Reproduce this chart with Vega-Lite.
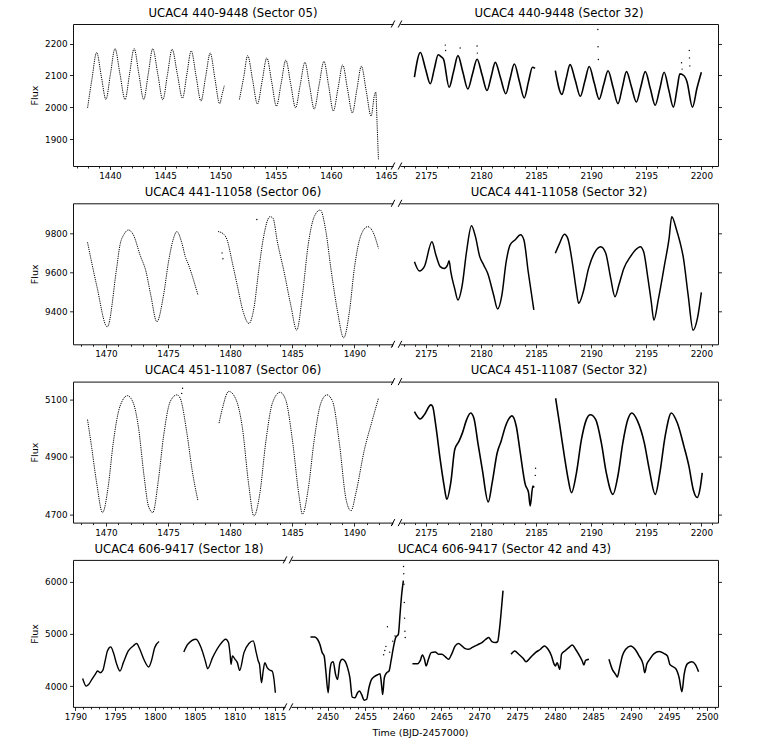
{
"$schema":"https://vega.github.io/schema/vega-lite/v6.json",
"padding":{"left":29,"top":7,"right":5,"bottom":5},
"config":{"view":{"stroke":null},"font":"DejaVu Sans",
"axis":{"grid":false,"domainColor":"#111","domainWidth":1,"tickColor":"#111","tickWidth":0.9,"labelColor":"black","labelFontSize":8.8,"titleFontSize":9.5,"titleFontWeight":"normal","titleColor":"black","labelFont":"DejaVu Sans","titleFont":"DejaVu Sans","labelOverlap":false},
"title":{"fontSize":11.7,"fontWeight":"normal","color":"black","font":"DejaVu Sans","offset":0.5},
"rule":{"color":"black","strokeWidth":1}},
"datasets":{
"one":[{}],
"lc":[
{"p":"1L","s":1,"t":1437.98,"f":1999},{"p":"1L","s":1,"t":1438.38,"f":2090},{"p":"1L","s":1,"t":1438.80,"f":2172},{"p":"1L","s":1,"t":1439.22,"f":2098},{"p":"1L","s":1,"t":1439.64,"f":2025},{"p":"1L","s":1,"t":1440.05,"f":2105},{"p":"1L","s":1,"t":1440.46,"f":2184},{"p":"1L","s":1,"t":1440.91,"f":2105},{"p":"1L","s":1,"t":1441.37,"f":2025},{"p":"1L","s":1,"t":1441.78,"f":2105},{"p":"1L","s":1,"t":1442.19,"f":2184},{"p":"1L","s":1,"t":1442.62,"f":2105},{"p":"1L","s":1,"t":1443.06,"f":2025},{"p":"1L","s":1,"t":1443.47,"f":2105},{"p":"1L","s":1,"t":1443.88,"f":2184},{"p":"1L","s":1,"t":1444.33,"f":2105},{"p":"1L","s":1,"t":1444.79,"f":2024},{"p":"1L","s":1,"t":1445.21,"f":2103},{"p":"1L","s":1,"t":1445.63,"f":2182},{"p":"1L","s":1,"t":1446.10,"f":2105},{"p":"1L","s":1,"t":1446.57,"f":2029},{"p":"1L","s":1,"t":1446.96,"f":2103},{"p":"1L","s":1,"t":1447.36,"f":2177},{"p":"1L","s":1,"t":1447.80,"f":2098},{"p":"1L","s":1,"t":1448.24,"f":2020},{"p":"1L","s":1,"t":1448.66,"f":2095},{"p":"1L","s":1,"t":1449.08,"f":2170},{"p":"1L","s":1,"t":1449.50,"f":2091},{"p":"1L","s":1,"t":1449.93,"f":2012},{"p":"1L","s":1,"t":1450.15,"f":2040},{"p":"1L","s":1,"t":1450.35,"f":2068},
{"p":"1L","s":2,"t":1451.72,"f":2025},{"p":"1L","s":2,"t":1452.10,"f":2093},{"p":"1L","s":2,"t":1452.47,"f":2162},{"p":"1L","s":2,"t":1452.91,"f":2087},{"p":"1L","s":2,"t":1453.35,"f":2011},{"p":"1L","s":2,"t":1453.78,"f":2083},{"p":"1L","s":2,"t":1454.20,"f":2155},{"p":"1L","s":2,"t":1454.64,"f":2080},{"p":"1L","s":2,"t":1455.07,"f":2004},{"p":"1L","s":2,"t":1455.50,"f":2076},{"p":"1L","s":2,"t":1455.92,"f":2148},{"p":"1L","s":2,"t":1456.36,"f":2074},{"p":"1L","s":2,"t":1456.80,"f":1999},{"p":"1L","s":2,"t":1457.22,"f":2070},{"p":"1L","s":2,"t":1457.65,"f":2141},{"p":"1L","s":2,"t":1458.07,"f":2068},{"p":"1L","s":2,"t":1458.49,"f":1995},{"p":"1L","s":2,"t":1458.93,"f":2070},{"p":"1L","s":2,"t":1459.37,"f":2144},{"p":"1L","s":2,"t":1459.80,"f":2067},{"p":"1L","s":2,"t":1460.22,"f":1989},{"p":"1L","s":2,"t":1460.65,"f":2061},{"p":"1L","s":2,"t":1461.07,"f":2133},{"p":"1L","s":2,"t":1461.50,"f":2058},{"p":"1L","s":2,"t":1461.94,"f":1983},{"p":"1L","s":2,"t":1462.35,"f":2056},{"p":"1L","s":2,"t":1462.76,"f":2129},{"p":"1L","s":2,"t":1463.20,"f":2051},{"p":"1L","s":2,"t":1463.64,"f":1973},{"p":"1L","s":2,"t":1463.95,"f":2040},{"p":"1L","s":2,"t":1464.06,"f":2048},{"p":"1L","s":2,"t":1464.18,"f":1950},{"p":"1L","s":2,"t":1464.30,"f":1838},
{"p":"1R","s":1,"t":2173.95,"f":2095},{"p":"1R","s":1,"t":2174.49,"f":2172},{"p":"1R","s":1,"t":2174.94,"f":2123},{"p":"1R","s":1,"t":2175.39,"f":2074},{"p":"1R","s":1,"t":2175.75,"f":2120},{"p":"1R","s":1,"t":2176.11,"f":2165},{"p":"1R","s":1,"t":2176.40,"f":2158},{"p":"1R","s":1,"t":2176.60,"f":2150},{"p":"1R","s":1,"t":2177.10,"f":2063},{"p":"1R","s":1,"t":2177.50,"f":2112},{"p":"1R","s":1,"t":2177.90,"f":2162},{"p":"1R","s":1,"t":2178.35,"f":2110},{"p":"1R","s":1,"t":2178.80,"f":2058},{"p":"1R","s":1,"t":2179.22,"f":2105},{"p":"1R","s":1,"t":2179.64,"f":2151},{"p":"1R","s":1,"t":2180.09,"f":2102},{"p":"1R","s":1,"t":2180.54,"f":2053},{"p":"1R","s":1,"t":2180.92,"f":2097},{"p":"1R","s":1,"t":2181.29,"f":2141},{"p":"1R","s":1,"t":2181.77,"f":2092},{"p":"1R","s":1,"t":2182.25,"f":2043},{"p":"1R","s":1,"t":2182.63,"f":2090},{"p":"1R","s":1,"t":2183.02,"f":2136},{"p":"1R","s":1,"t":2183.47,"f":2083},{"p":"1R","s":1,"t":2183.92,"f":2030},{"p":"1R","s":1,"t":2184.30,"f":2080},{"p":"1R","s":1,"t":2184.67,"f":2126},{"p":"1R","s":1,"t":2184.90,"f":2122},
{"p":"1R","s":2,"t":2186.74,"f":2115},{"p":"1R","s":2,"t":2187.34,"f":2041},{"p":"1R","s":2,"t":2187.71,"f":2088},{"p":"1R","s":2,"t":2188.08,"f":2134},{"p":"1R","s":2,"t":2188.55,"f":2085},{"p":"1R","s":2,"t":2189.01,"f":2035},{"p":"1R","s":2,"t":2189.42,"f":2082},{"p":"1R","s":2,"t":2189.82,"f":2128},{"p":"1R","s":2,"t":2190.27,"f":2077},{"p":"1R","s":2,"t":2190.72,"f":2026},{"p":"1R","s":2,"t":2191.12,"f":2070},{"p":"1R","s":2,"t":2191.53,"f":2115},{"p":"1R","s":2,"t":2191.98,"f":2063},{"p":"1R","s":2,"t":2192.43,"f":2012},{"p":"1R","s":2,"t":2192.82,"f":2062},{"p":"1R","s":2,"t":2193.20,"f":2112},{"p":"1R","s":2,"t":2193.65,"f":2065},{"p":"1R","s":2,"t":2194.10,"f":2017},{"p":"1R","s":2,"t":2194.50,"f":2064},{"p":"1R","s":2,"t":2194.91,"f":2112},{"p":"1R","s":2,"t":2195.36,"f":2060},{"p":"1R","s":2,"t":2195.81,"f":2007},{"p":"1R","s":2,"t":2196.22,"f":2058},{"p":"1R","s":2,"t":2196.62,"f":2110},{"p":"1R","s":2,"t":2197.04,"f":2055},{"p":"1R","s":2,"t":2197.46,"f":2001},{"p":"1R","s":2,"t":2197.80,"f":2060},{"p":"1R","s":2,"t":2198.05,"f":2105},{"p":"1R","s":2,"t":2198.40,"f":2100},{"p":"1R","s":2,"t":2198.70,"f":2080},{"p":"1R","s":2,"t":2199.19,"f":2001},{"p":"1R","s":2,"t":2199.60,"f":2060},{"p":"1R","s":2,"t":2200.00,"f":2110},
{"p":"2L","s":1,"t":1468.52,"f":9754},{"p":"2L","s":1,"t":1469.25,"f":9536},{"p":"2L","s":1,"t":1470.11,"f":9323},{"p":"2L","s":1,"t":1470.86,"f":9621},{"p":"2L","s":1,"t":1471.13,"f":9740},{"p":"2L","s":1,"t":1471.46,"f":9795},{"p":"2L","s":1,"t":1471.81,"f":9817},{"p":"2L","s":1,"t":1472.21,"f":9792},{"p":"2L","s":1,"t":1472.75,"f":9689},{"p":"2L","s":1,"t":1473.23,"f":9604},{"p":"2L","s":1,"t":1473.61,"f":9485},{"p":"2L","s":1,"t":1474.10,"f":9349},{"p":"2L","s":1,"t":1474.64,"f":9485},{"p":"2L","s":1,"t":1475.04,"f":9655},{"p":"2L","s":1,"t":1475.44,"f":9774},{"p":"2L","s":1,"t":1475.71,"f":9809},{"p":"2L","s":1,"t":1476.12,"f":9749},{"p":"2L","s":1,"t":1476.39,"f":9681},{"p":"2L","s":1,"t":1476.66,"f":9638},{"p":"2L","s":1,"t":1476.93,"f":9587},{"p":"2L","s":1,"t":1477.41,"f":9485},
{"p":"2L","s":2,"t":1479.03,"f":9809},{"p":"2L","s":2,"t":1479.49,"f":9795},{"p":"2L","s":2,"t":1479.76,"f":9766},{"p":"2L","s":2,"t":1480.16,"f":9655},{"p":"2L","s":2,"t":1480.57,"f":9536},{"p":"2L","s":2,"t":1481.05,"f":9400},{"p":"2L","s":2,"t":1481.51,"f":9340},{"p":"2L","s":2,"t":1481.91,"f":9417},{"p":"2L","s":2,"t":1482.32,"f":9621},{"p":"2L","s":2,"t":1482.67,"f":9774},{"p":"2L","s":2,"t":1483.21,"f":9885},{"p":"2L","s":2,"t":1483.45,"f":9877},{"p":"2L","s":2,"t":1483.80,"f":9757},{"p":"2L","s":2,"t":1484.34,"f":9604},{"p":"2L","s":2,"t":1484.88,"f":9434},{"p":"2L","s":2,"t":1485.36,"f":9306},{"p":"2L","s":2,"t":1485.82,"f":9485},{"p":"2L","s":2,"t":1486.28,"f":9740},{"p":"2L","s":2,"t":1486.77,"f":9885},{"p":"2L","s":2,"t":1487.25,"f":9919},{"p":"2L","s":2,"t":1487.71,"f":9809},{"p":"2L","s":2,"t":1488.11,"f":9621},{"p":"2L","s":2,"t":1488.65,"f":9400},{"p":"2L","s":2,"t":1489.14,"f":9267},{"p":"2L","s":2,"t":1489.60,"f":9400},{"p":"2L","s":2,"t":1490.00,"f":9621},{"p":"2L","s":2,"t":1490.54,"f":9792},{"p":"2L","s":2,"t":1491.08,"f":9834},{"p":"2L","s":2,"t":1491.48,"f":9809},{"p":"2L","s":2,"t":1491.94,"f":9723},
{"p":"2R","s":1,"t":2173.95,"f":9655},{"p":"2R","s":1,"t":2174.40,"f":9608},{"p":"2R","s":1,"t":2174.85,"f":9630},{"p":"2R","s":1,"t":2175.54,"f":9757},{"p":"2R","s":1,"t":2175.90,"f":9689},{"p":"2R","s":1,"t":2176.29,"f":9630},{"p":"2R","s":1,"t":2176.65,"f":9621},{"p":"2R","s":1,"t":2176.95,"f":9638},{"p":"2R","s":1,"t":2177.10,"f":9660},{"p":"2R","s":1,"t":2177.25,"f":9604},{"p":"2R","s":1,"t":2177.60,"f":9519},{"p":"2R","s":1,"t":2177.90,"f":9460},{"p":"2R","s":1,"t":2178.29,"f":9536},{"p":"2R","s":1,"t":2178.68,"f":9706},{"p":"2R","s":1,"t":2179.13,"f":9839},{"p":"2R","s":1,"t":2179.49,"f":9783},{"p":"2R","s":1,"t":2179.88,"f":9681},{"p":"2R","s":1,"t":2180.24,"f":9638},{"p":"2R","s":1,"t":2180.60,"f":9596},{"p":"2R","s":1,"t":2181.14,"f":9485},{"p":"2R","s":1,"t":2181.50,"f":9414},{"p":"2R","s":1,"t":2181.89,"f":9485},{"p":"2R","s":1,"t":2182.28,"f":9655},{"p":"2R","s":1,"t":2182.63,"f":9740},{"p":"2R","s":1,"t":2183.08,"f":9766},{"p":"2R","s":1,"t":2183.59,"f":9792},{"p":"2R","s":1,"t":2183.89,"f":9766},{"p":"2R","s":1,"t":2184.28,"f":9604},{"p":"2R","s":1,"t":2184.79,"f":9409},
{"p":"2R","s":2,"t":2186.74,"f":9698},{"p":"2R","s":2,"t":2187.13,"f":9749},{"p":"2R","s":2,"t":2187.57,"f":9795},{"p":"2R","s":2,"t":2187.87,"f":9774},{"p":"2R","s":2,"t":2188.32,"f":9638},{"p":"2R","s":2,"t":2188.62,"f":9519},{"p":"2R","s":2,"t":2188.86,"f":9443},{"p":"2R","s":2,"t":2189.28,"f":9502},{"p":"2R","s":2,"t":2189.76,"f":9621},{"p":"2R","s":2,"t":2190.27,"f":9698},{"p":"2R","s":2,"t":2190.87,"f":9732},{"p":"2R","s":2,"t":2191.32,"f":9698},{"p":"2R","s":2,"t":2191.77,"f":9570},{"p":"2R","s":2,"t":2192.16,"f":9477},{"p":"2R","s":2,"t":2192.51,"f":9536},{"p":"2R","s":2,"t":2192.96,"f":9621},{"p":"2R","s":2,"t":2193.56,"f":9681},{"p":"2R","s":2,"t":2194.01,"f":9715},{"p":"2R","s":2,"t":2194.46,"f":9732},{"p":"2R","s":2,"t":2194.76,"f":9706},{"p":"2R","s":2,"t":2195.15,"f":9570},{"p":"2R","s":2,"t":2195.45,"f":9451},{"p":"2R","s":2,"t":2195.69,"f":9357},{"p":"2R","s":2,"t":2196.11,"f":9468},{"p":"2R","s":2,"t":2196.65,"f":9638},{"p":"2R","s":2,"t":2197.07,"f":9774},{"p":"2R","s":2,"t":2197.31,"f":9885},{"p":"2R","s":2,"t":2197.75,"f":9817},{"p":"2R","s":2,"t":2198.05,"f":9757},{"p":"2R","s":2,"t":2198.35,"f":9681},{"p":"2R","s":2,"t":2198.80,"f":9485},{"p":"2R","s":2,"t":2199.25,"f":9306},{"p":"2R","s":2,"t":2199.64,"f":9366},{"p":"2R","s":2,"t":2200.00,"f":9499},
{"p":"3L","s":1,"t":1468.52,"f":5029},{"p":"3L","s":1,"t":1468.84,"f":4936},{"p":"3L","s":1,"t":1469.25,"f":4810},{"p":"3L","s":1,"t":1469.73,"f":4706},{"p":"3L","s":1,"t":1470.19,"f":4798},{"p":"3L","s":1,"t":1470.59,"f":4948},{"p":"3L","s":1,"t":1471.13,"f":5075},{"p":"3L","s":1,"t":1471.73,"f":5112},{"p":"3L","s":1,"t":1472.21,"f":5086},{"p":"3L","s":1,"t":1472.61,"f":5005},{"p":"3L","s":1,"t":1473.07,"f":4833},{"p":"3L","s":1,"t":1473.42,"f":4729},{"p":"3L","s":1,"t":1473.77,"f":4706},{"p":"3L","s":1,"t":1474.23,"f":4821},{"p":"3L","s":1,"t":1474.64,"f":4971},{"p":"3L","s":1,"t":1475.18,"f":5092},{"p":"3L","s":1,"t":1475.71,"f":5115},{"p":"3L","s":1,"t":1475.98,"f":5103},{"p":"3L","s":1,"t":1476.52,"f":4982},{"p":"3L","s":1,"t":1476.93,"f":4856},{"p":"3L","s":1,"t":1477.41,"f":4746},
{"p":"3L","s":2,"t":1479.11,"f":5017},{"p":"3L","s":2,"t":1479.35,"f":5063},{"p":"3L","s":2,"t":1479.89,"f":5127},{"p":"3L","s":2,"t":1480.43,"f":5103},{"p":"3L","s":2,"t":1480.97,"f":5005},{"p":"3L","s":2,"t":1481.51,"f":4798},{"p":"3L","s":2,"t":1481.91,"f":4694},{"p":"3L","s":2,"t":1482.40,"f":4775},{"p":"3L","s":2,"t":1482.86,"f":4948},{"p":"3L","s":2,"t":1483.40,"f":5086},{"p":"3L","s":2,"t":1484.02,"f":5124},{"p":"3L","s":2,"t":1484.47,"f":5098},{"p":"3L","s":2,"t":1485.01,"f":4959},{"p":"3L","s":2,"t":1485.55,"f":4763},{"p":"3L","s":2,"t":1485.82,"f":4700},{"p":"3L","s":2,"t":1486.28,"f":4786},{"p":"3L","s":2,"t":1486.77,"f":4959},{"p":"3L","s":2,"t":1487.30,"f":5086},{"p":"3L","s":2,"t":1487.79,"f":5115},{"p":"3L","s":2,"t":1488.25,"f":5092},{"p":"3L","s":2,"t":1488.79,"f":4948},{"p":"3L","s":2,"t":1489.33,"f":4752},{"p":"3L","s":2,"t":1489.73,"f":4712},{"p":"3L","s":2,"t":1490.13,"f":4775},{"p":"3L","s":2,"t":1490.81,"f":4925},{"p":"3L","s":2,"t":1491.40,"f":5020},{"p":"3L","s":2,"t":1491.94,"f":5103},
{"p":"3R","s":1,"t":2173.95,"f":5057},{"p":"3R","s":1,"t":2174.49,"f":5031},{"p":"3R","s":1,"t":2174.85,"f":5046},{"p":"3R","s":1,"t":2175.45,"f":5080},{"p":"3R","s":1,"t":2175.60,"f":5075},{"p":"3R","s":1,"t":2175.90,"f":5005},{"p":"3R","s":1,"t":2176.29,"f":4890},{"p":"3R","s":1,"t":2176.65,"f":4798},{"p":"3R","s":1,"t":2176.89,"f":4752},{"p":"3R","s":1,"t":2177.25,"f":4810},{"p":"3R","s":1,"t":2177.61,"f":4925},{"p":"3R","s":1,"t":2178.00,"f":4954},{"p":"3R","s":1,"t":2178.30,"f":4982},{"p":"3R","s":1,"t":2178.69,"f":5029},{"p":"3R","s":1,"t":2179.05,"f":5052},{"p":"3R","s":1,"t":2179.35,"f":5034},{"p":"3R","s":1,"t":2179.71,"f":4948},{"p":"3R","s":1,"t":2180.11,"f":4856},{"p":"3R","s":1,"t":2180.65,"f":4743},{"p":"3R","s":1,"t":2181.01,"f":4810},{"p":"3R","s":1,"t":2181.46,"f":4913},{"p":"3R","s":1,"t":2181.82,"f":4954},{"p":"3R","s":1,"t":2182.21,"f":5005},{"p":"3R","s":1,"t":2182.81,"f":5042},{"p":"3R","s":1,"t":2183.20,"f":5005},{"p":"3R","s":1,"t":2183.56,"f":4913},{"p":"3R","s":1,"t":2184.01,"f":4804},{"p":"3R","s":1,"t":2184.31,"f":4775},{"p":"3R","s":1,"t":2184.46,"f":4729},{"p":"3R","s":1,"t":2184.70,"f":4798},{"p":"3R","s":1,"t":2184.82,"f":4793},
{"p":"3R","s":2,"t":2186.77,"f":5103},{"p":"3R","s":2,"t":2187.16,"f":5005},{"p":"3R","s":2,"t":2187.61,"f":4890},{"p":"3R","s":2,"t":2187.91,"f":4821},{"p":"3R","s":2,"t":2188.21,"f":4775},{"p":"3R","s":2,"t":2188.66,"f":4844},{"p":"3R","s":2,"t":2189.11,"f":4959},{"p":"3R","s":2,"t":2189.56,"f":5029},{"p":"3R","s":2,"t":2189.92,"f":5046},{"p":"3R","s":2,"t":2190.41,"f":5029},{"p":"3R","s":2,"t":2190.92,"f":4948},{"p":"3R","s":2,"t":2191.37,"f":4844},{"p":"3R","s":2,"t":2191.97,"f":4769},{"p":"3R","s":2,"t":2192.42,"f":4833},{"p":"3R","s":2,"t":2192.87,"f":4948},{"p":"3R","s":2,"t":2193.32,"f":5029},{"p":"3R","s":2,"t":2193.68,"f":5052},{"p":"3R","s":2,"t":2194.22,"f":5023},{"p":"3R","s":2,"t":2194.82,"f":4948},{"p":"3R","s":2,"t":2195.27,"f":4856},{"p":"3R","s":2,"t":2195.81,"f":4769},{"p":"3R","s":2,"t":2196.23,"f":4844},{"p":"3R","s":2,"t":2196.71,"f":4971},{"p":"3R","s":2,"t":2197.28,"f":5052},{"p":"3R","s":2,"t":2197.82,"f":5017},{"p":"3R","s":2,"t":2198.42,"f":4936},{"p":"3R","s":2,"t":2198.87,"f":4867},{"p":"3R","s":2,"t":2199.26,"f":4786},{"p":"3R","s":2,"t":2199.62,"f":4758},{"p":"3R","s":2,"t":2199.92,"f":4798},{"p":"3R","s":2,"t":2200.08,"f":4844},
{"p":"4L","s":1,"t":1790.91,"f":4147},{"p":"4L","s":1,"t":1791.37,"f":4000},{"p":"4L","s":1,"t":1791.66,"f":4032},{"p":"4L","s":1,"t":1792.07,"f":4128},{"p":"4L","s":1,"t":1792.49,"f":4224},{"p":"4L","s":1,"t":1792.78,"f":4289},{"p":"4L","s":1,"t":1793.11,"f":4256},{"p":"4L","s":1,"t":1793.44,"f":4301},{"p":"4L","s":1,"t":1793.73,"f":4481},{"p":"4L","s":1,"t":1794.02,"f":4673},{"p":"4L","s":1,"t":1794.44,"f":4750},{"p":"4L","s":1,"t":1794.77,"f":4641},{"p":"4L","s":1,"t":1795.19,"f":4417},{"p":"4L","s":1,"t":1795.60,"f":4289},{"p":"4L","s":1,"t":1796.02,"f":4449},{"p":"4L","s":1,"t":1796.64,"f":4673},{"p":"4L","s":1,"t":1797.26,"f":4769},{"p":"4L","s":1,"t":1797.68,"f":4814},{"p":"4L","s":1,"t":1798.09,"f":4705},{"p":"4L","s":1,"t":1798.59,"f":4513},{"p":"4L","s":1,"t":1799.21,"f":4366},{"p":"4L","s":1,"t":1799.54,"f":4481},{"p":"4L","s":1,"t":1799.96,"f":4737},{"p":"4L","s":1,"t":1800.50,"f":4853},
{"p":"4L","s":2,"t":1803.61,"f":4654},{"p":"4L","s":2,"t":1804.11,"f":4801},{"p":"4L","s":2,"t":1805.15,"f":4897},{"p":"4L","s":2,"t":1805.77,"f":4737},{"p":"4L","s":2,"t":1806.31,"f":4481},{"p":"4L","s":2,"t":1806.60,"f":4333},{"p":"4L","s":2,"t":1807.22,"f":4545},{"p":"4L","s":2,"t":1808.05,"f":4769},{"p":"4L","s":2,"t":1808.88,"f":4897},{"p":"4L","s":2,"t":1809.21,"f":4833},{"p":"4L","s":2,"t":1809.42,"f":4609},{"p":"4L","s":2,"t":1809.54,"f":4417},{"p":"4L","s":2,"t":1809.71,"f":4577},{"p":"4L","s":2,"t":1810.04,"f":4513},{"p":"4L","s":2,"t":1810.33,"f":4449},{"p":"4L","s":2,"t":1810.62,"f":4301},{"p":"4L","s":2,"t":1811.16,"f":4641},{"p":"4L","s":2,"t":1811.78,"f":4814},{"p":"4L","s":2,"t":1812.32,"f":4865},{"p":"4L","s":2,"t":1812.70,"f":4641},{"p":"4L","s":2,"t":1812.95,"f":4481},{"p":"4L","s":2,"t":1813.11,"f":4417},{"p":"4L","s":2,"t":1813.36,"f":4064},{"p":"4L","s":2,"t":1813.57,"f":4289},{"p":"4L","s":2,"t":1813.78,"f":4449},{"p":"4L","s":2,"t":1814.07,"f":4353},{"p":"4L","s":2,"t":1814.36,"f":4308},{"p":"4L","s":2,"t":1814.69,"f":4289},{"p":"4L","s":2,"t":1814.90,"f":4160},{"p":"4L","s":2,"t":1815.10,"f":3872},
{"p":"4R","s":1,"t":2447.75,"f":4942},{"p":"4R","s":1,"t":2448.33,"f":4942},{"p":"4R","s":1,"t":2448.68,"f":4897},{"p":"4R","s":1,"t":2448.99,"f":4801},{"p":"4R","s":1,"t":2449.30,"f":4641},{"p":"4R","s":1,"t":2449.56,"f":4577},{"p":"4R","s":1,"t":2449.78,"f":4289},{"p":"4R","s":1,"t":2450.09,"f":3872},{"p":"4R","s":1,"t":2450.31,"f":4289},{"p":"4R","s":1,"t":2450.53,"f":4449},{"p":"4R","s":1,"t":2450.75,"f":4468},{"p":"4R","s":1,"t":2451.06,"f":4224},{"p":"4R","s":1,"t":2451.32,"f":4128},{"p":"4R","s":1,"t":2451.63,"f":4449},{"p":"4R","s":1,"t":2451.94,"f":4513},{"p":"4R","s":1,"t":2452.29,"f":4481},{"p":"4R","s":1,"t":2452.64,"f":4353},{"p":"4R","s":1,"t":2452.95,"f":4160},{"p":"4R","s":1,"t":2453.26,"f":3789},{"p":"4R","s":1,"t":2453.61,"f":3776},{"p":"4R","s":1,"t":2453.96,"f":3872},{"p":"4R","s":1,"t":2454.23,"f":3904},{"p":"4R","s":1,"t":2454.49,"f":3840},{"p":"4R","s":1,"t":2454.85,"f":3731},{"p":"4R","s":1,"t":2455.15,"f":3744},{"p":"4R","s":1,"t":2455.46,"f":3968},{"p":"4R","s":1,"t":2455.81,"f":4128},{"p":"4R","s":1,"t":2456.26,"f":4192},{"p":"4R","s":1,"t":2456.70,"f":4224},{"p":"4R","s":1,"t":2456.92,"f":4237},{"p":"4R","s":1,"t":2457.14,"f":4000},{"p":"4R","s":1,"t":2457.27,"f":3840},{"p":"4R","s":1,"t":2457.49,"f":4160},{"p":"4R","s":1,"t":2457.80,"f":4256},{"p":"4R","s":1,"t":2458.11,"f":4289},{"p":"4R","s":1,"t":2458.37,"f":4481},{"p":"4R","s":1,"t":2458.68,"f":4737},{"p":"4R","s":1,"t":2458.99,"f":4929},{"p":"4R","s":1,"t":2459.34,"f":4994},{"p":"4R","s":1,"t":2459.56,"f":5378},{"p":"4R","s":1,"t":2459.78,"f":5763},{"p":"4R","s":1,"t":2460.00,"f":6019},
{"p":"4R","s":2,"t":2461.19,"f":4430},{"p":"4R","s":2,"t":2461.89,"f":4430},{"p":"4R","s":2,"t":2462.20,"f":4481},{"p":"4R","s":2,"t":2462.51,"f":4596},{"p":"4R","s":2,"t":2462.78,"f":4513},{"p":"4R","s":2,"t":2463.00,"f":4385},{"p":"4R","s":2,"t":2463.30,"f":4513},{"p":"4R","s":2,"t":2463.66,"f":4641},{"p":"4R","s":2,"t":2464.19,"f":4654},{"p":"4R","s":2,"t":2464.63,"f":4609},{"p":"4R","s":2,"t":2465.07,"f":4609},{"p":"4R","s":2,"t":2465.51,"f":4564},{"p":"4R","s":2,"t":2465.95,"f":4513},{"p":"4R","s":2,"t":2466.39,"f":4622},{"p":"4R","s":2,"t":2466.83,"f":4769},{"p":"4R","s":2,"t":2467.27,"f":4814},{"p":"4R","s":2,"t":2467.71,"f":4769},{"p":"4R","s":2,"t":2468.15,"f":4718},{"p":"4R","s":2,"t":2468.59,"f":4705},{"p":"4R","s":2,"t":2469.03,"f":4737},{"p":"4R","s":2,"t":2469.47,"f":4769},{"p":"4R","s":2,"t":2469.91,"f":4801},{"p":"4R","s":2,"t":2470.35,"f":4833},{"p":"4R","s":2,"t":2470.88,"f":4897},{"p":"4R","s":2,"t":2471.23,"f":4929},{"p":"4R","s":2,"t":2471.67,"f":4852},{"p":"4R","s":2,"t":2472.11,"f":4833},{"p":"4R","s":2,"t":2472.42,"f":4852},{"p":"4R","s":2,"t":2472.64,"f":5058},{"p":"4R","s":2,"t":2472.86,"f":5378},{"p":"4R","s":2,"t":2473.13,"f":5827},
{"p":"4R","s":3,"t":2474.19,"f":4609},{"p":"4R","s":3,"t":2474.67,"f":4673},{"p":"4R","s":3,"t":2475.20,"f":4609},{"p":"4R","s":3,"t":2475.77,"f":4532},{"p":"4R","s":3,"t":2476.17,"f":4468},{"p":"4R","s":3,"t":2476.74,"f":4545},{"p":"4R","s":3,"t":2477.40,"f":4641},{"p":"4R","s":3,"t":2478.06,"f":4705},{"p":"4R","s":3,"t":2478.59,"f":4769},{"p":"4R","s":3,"t":2479.07,"f":4705},{"p":"4R","s":3,"t":2479.52,"f":4577},{"p":"4R","s":3,"t":2479.87,"f":4417},{"p":"4R","s":3,"t":2480.04,"f":4385},{"p":"4R","s":3,"t":2480.26,"f":4449},{"p":"4R","s":3,"t":2480.62,"f":4321},{"p":"4R","s":3,"t":2480.84,"f":4609},{"p":"4R","s":3,"t":2481.28,"f":4673},{"p":"4R","s":3,"t":2481.81,"f":4737},{"p":"4R","s":3,"t":2482.25,"f":4788},{"p":"4R","s":3,"t":2482.69,"f":4705},{"p":"4R","s":3,"t":2483.22,"f":4577},{"p":"4R","s":3,"t":2483.57,"f":4481},{"p":"4R","s":3,"t":2483.79,"f":4404},{"p":"4R","s":3,"t":2484.01,"f":4494},{"p":"4R","s":3,"t":2484.45,"f":4513},
{"p":"4R","s":4,"t":2487.09,"f":4513},{"p":"4R","s":4,"t":2487.53,"f":4321},{"p":"4R","s":4,"t":2487.97,"f":4224},{"p":"4R","s":4,"t":2488.19,"f":4173},{"p":"4R","s":4,"t":2488.50,"f":4353},{"p":"4R","s":4,"t":2488.85,"f":4577},{"p":"4R","s":4,"t":2489.30,"f":4705},{"p":"4R","s":4,"t":2489.96,"f":4769},{"p":"4R","s":4,"t":2490.53,"f":4705},{"p":"4R","s":4,"t":2491.06,"f":4577},{"p":"4R","s":4,"t":2491.59,"f":4417},{"p":"4R","s":4,"t":2491.81,"f":4256},{"p":"4R","s":4,"t":2492.07,"f":4417},{"p":"4R","s":4,"t":2492.47,"f":4513},{"p":"4R","s":4,"t":2493.04,"f":4622},{"p":"4R","s":4,"t":2493.70,"f":4660},{"p":"4R","s":4,"t":2494.36,"f":4622},{"p":"4R","s":4,"t":2494.80,"f":4577},{"p":"4R","s":4,"t":2495.11,"f":4417},{"p":"4R","s":4,"t":2495.37,"f":4385},{"p":"4R","s":4,"t":2495.90,"f":4333},{"p":"4R","s":4,"t":2496.34,"f":4160},{"p":"4R","s":4,"t":2496.70,"f":3891},{"p":"4R","s":4,"t":2497.00,"f":4224},{"p":"4R","s":4,"t":2497.44,"f":4430},{"p":"4R","s":4,"t":2498.02,"f":4468},{"p":"4R","s":4,"t":2498.46,"f":4417},{"p":"4R","s":4,"t":2498.90,"f":4276}
],
"out":[
{"p":"1R","t":2176.75,"f":2195},{"p":"1R","t":2176.78,"f":2178},{"p":"1R","t":2178.10,"f":2186},{"p":"1R","t":2179.64,"f":2192},{"p":"1R","t":2179.66,"f":2170},{"p":"1R","t":2190.60,"f":2244},{"p":"1R","t":2190.62,"f":2190},{"p":"1R","t":2190.65,"f":2150},{"p":"1R","t":2198.20,"f":2140},{"p":"1R","t":2198.25,"f":2120},{"p":"1R","t":2198.90,"f":2178},{"p":"1R","t":2198.92,"f":2155},{"p":"1R","t":2198.95,"f":2130},
{"p":"2L","t":1479.35,"f":9700},{"p":"2L","t":1479.42,"f":9670},{"p":"2L","t":1482.15,"f":9870},
{"p":"3L","t":1476.10,"f":5120},{"p":"3L","t":1476.17,"f":5138},
{"p":"3R","t":2184.92,"f":4835},{"p":"3R","t":2184.95,"f":4860},
{"p":"4R","t":2457.40,"f":4600},{"p":"4R","t":2457.55,"f":4680},{"p":"4R","t":2457.70,"f":4760},{"p":"4R","t":2457.90,"f":5135},{"p":"4R","t":2458.20,"f":4650},{"p":"4R","t":2458.60,"f":4860},{"p":"4R","t":2458.90,"f":4960},{"p":"4R","t":2460.02,"f":6288},{"p":"4R","t":2460.05,"f":6150},{"p":"4R","t":2460.08,"f":5950},{"p":"4R","t":2460.12,"f":5600},{"p":"4R","t":2460.16,"f":5300},{"p":"4R","t":2460.20,"f":5050},{"p":"4R","t":2460.24,"f":4929}
]},
"spacing":5.3,
"vconcat":[
{"bounds":"flush","spacing":7,"hconcat":[
{"width":320,"height":142,"title":"UCAC4 440-9448 (Sector 05)","resolve":{"axis":{"x":"independent"}},"layer":[
{"data":{"name":"lc"},"transform":[{"filter":"datum.p === '1L'"}],"mark":{"type":"line","color":"black","strokeWidth":1,"strokeDash":[1.2,1],"interpolate":"monotone","clip":true},
"encoding":{"x":{"field":"t","type":"quantitative","scale":{"domain":[1436.66,1465.62],"nice":false,"zero":false},"axis":{"orient":"bottom","title":null,"values":[1437,1438,1439,1440,1441,1442,1443,1444,1445,1446,1447,1448,1449,1450,1451,1452,1453,1454,1455,1456,1457,1458,1459,1460,1461,1462,1463,1464,1465],"format":"d","labelExpr":"datum.value % 5 === 0 ? datum.label : ''","tickSize":{"condition":{"test":"datum.value % 5 === 0","value":3.5},"value":2},"labelFlush":false,"labelPadding":2}},
"y":{"field":"f","type":"quantitative","title":"Flux","scale":{"domain":[1817,2261],"nice":false,"zero":false},"axis":{"orient":"left","values":[1900,2000,2100,2200],"format":"d","tickSize":3.5,"labelPadding":2.5,"titlePadding":5}},
"detail":{"field":"s"},"order":{"field":"t"}}},
{"data":{"name":"one"},"mark":{"type":"rule","xOffset":-1.8,"x2Offset":1.8,"yOffset":3.5,"y2Offset":-3.5},"encoding":{"x":{"datum":1465.62,"axis":{"orient":"top","labels":false,"ticks":false,"title":null,"domain":true}},"x2":{"datum":1465.62},"y":{"datum":2261},"y2":{"datum":2261}}},
{"data":{"name":"one"},"mark":{"type":"rule","xOffset":-1.8,"x2Offset":1.8,"yOffset":3.5,"y2Offset":-3.5},"encoding":{"x":{"datum":1465.62,"axis":null},"x2":{"datum":1465.62},"y":{"datum":1817},"y2":{"datum":1817}}}
]},
{"width":318,"height":142,"title":"UCAC4 440-9448 (Sector 32)","resolve":{"axis":{"x":"independent"}},"layer":[
{"data":{"name":"lc"},"transform":[{"filter":"datum.p === '1R'"}],"mark":{"type":"line","color":"black","strokeWidth":1.6,"interpolate":"monotone","clip":true},
"encoding":{"x":{"field":"t","type":"quantitative","scale":{"domain":[2172.64,2201.51],"nice":false,"zero":false},"axis":{"orient":"bottom","title":null,"values":[2173,2174,2175,2176,2177,2178,2179,2180,2181,2182,2183,2184,2185,2186,2187,2188,2189,2190,2191,2192,2193,2194,2195,2196,2197,2198,2199,2200,2201],"format":"d","labelExpr":"datum.value % 5 === 0 ? datum.label : ''","tickSize":{"condition":{"test":"datum.value % 5 === 0","value":3.5},"value":2},"labelFlush":false,"labelPadding":2}},
"y":{"field":"f","type":"quantitative","title":null,"scale":{"domain":[1817,2261],"nice":false,"zero":false},"axis":{"orient":"right","values":[1900,2000,2100,2200],"labels":false,"tickSize":3.5}},
"detail":{"field":"s"},"order":{"field":"t"}}},
{"data":{"name":"out"},"transform":[{"filter":"datum.p === '1R'"}],"mark":{"type":"circle","color":"black","size":2,"opacity":1},"encoding":{"x":{"field":"t","type":"quantitative","axis":null},"y":{"field":"f","type":"quantitative","title":null}}},
{"data":{"name":"one"},"mark":{"type":"rule","xOffset":-1.8,"x2Offset":1.8,"yOffset":3.5,"y2Offset":-3.5},"encoding":{"x":{"datum":2172.64,"axis":{"orient":"top","labels":false,"ticks":false,"title":null,"domain":true}},"x2":{"datum":2172.64},"y":{"datum":2261},"y2":{"datum":2261}}},
{"data":{"name":"one"},"mark":{"type":"rule","xOffset":-1.8,"x2Offset":1.8,"yOffset":3.5,"y2Offset":-3.5},"encoding":{"x":{"datum":2172.64,"axis":null},"x2":{"datum":2172.64},"y":{"datum":1817},"y2":{"datum":1817}}}
]}
]},
{"bounds":"flush","spacing":7,"hconcat":[
{"width":320,"height":141,"title":"UCAC4 441-11058 (Sector 06)","resolve":{"axis":{"x":"independent"}},"layer":[
{"data":{"name":"lc"},"transform":[{"filter":"datum.p === '2L'"}],"mark":{"type":"line","color":"black","strokeWidth":1,"strokeDash":[1.2,1],"interpolate":"monotone","clip":true},
"encoding":{"x":{"field":"t","type":"quantitative","scale":{"domain":[1467.35,1493.11],"nice":false,"zero":false},"axis":{"orient":"bottom","title":null,"values":[1468,1469,1470,1471,1472,1473,1474,1475,1476,1477,1478,1479,1480,1481,1482,1483,1484,1485,1486,1487,1488,1489,1490,1491,1492,1493],"format":"d","labelExpr":"datum.value % 5 === 0 ? datum.label : ''","tickSize":{"condition":{"test":"datum.value % 5 === 0","value":3.5},"value":2},"labelFlush":false,"labelPadding":2}},
"y":{"field":"f","type":"quantitative","title":"Flux","scale":{"domain":[9234,9953],"nice":false,"zero":false},"axis":{"orient":"left","values":[9400,9600,9800],"format":"d","tickSize":3.5,"labelPadding":2.5,"titlePadding":5}},
"detail":{"field":"s"},"order":{"field":"t"}}},
{"data":{"name":"out"},"transform":[{"filter":"datum.p === '2L'"}],"mark":{"type":"circle","color":"black","size":2,"opacity":1},"encoding":{"x":{"field":"t","type":"quantitative","axis":null},"y":{"field":"f","type":"quantitative","title":"Flux"}}},
{"data":{"name":"one"},"mark":{"type":"rule","xOffset":-1.8,"x2Offset":1.8,"yOffset":3.5,"y2Offset":-3.5},"encoding":{"x":{"datum":1493.11,"axis":{"orient":"top","labels":false,"ticks":false,"title":null,"domain":true}},"x2":{"datum":1493.11},"y":{"datum":9953},"y2":{"datum":9953}}},
{"data":{"name":"one"},"mark":{"type":"rule","xOffset":-1.8,"x2Offset":1.8,"yOffset":3.5,"y2Offset":-3.5},"encoding":{"x":{"datum":1493.11,"axis":null},"x2":{"datum":1493.11},"y":{"datum":9234},"y2":{"datum":9234}}}
]},
{"width":318,"height":141,"title":"UCAC4 441-11058 (Sector 32)","resolve":{"axis":{"x":"independent"}},"layer":[
{"data":{"name":"lc"},"transform":[{"filter":"datum.p === '2R'"}],"mark":{"type":"line","color":"black","strokeWidth":1.5,"interpolate":"monotone","clip":true},
"encoding":{"x":{"field":"t","type":"quantitative","scale":{"domain":[2172.64,2201.51],"nice":false,"zero":false},"axis":{"orient":"bottom","title":null,"values":[2173,2174,2175,2176,2177,2178,2179,2180,2181,2182,2183,2184,2185,2186,2187,2188,2189,2190,2191,2192,2193,2194,2195,2196,2197,2198,2199,2200,2201],"format":"d","labelExpr":"datum.value % 5 === 0 ? datum.label : ''","tickSize":{"condition":{"test":"datum.value % 5 === 0","value":3.5},"value":2},"labelFlush":false,"labelPadding":2}},
"y":{"field":"f","type":"quantitative","title":null,"scale":{"domain":[9234,9953],"nice":false,"zero":false},"axis":{"orient":"right","values":[9400,9600,9800],"labels":false,"tickSize":3.5}},
"detail":{"field":"s"},"order":{"field":"t"}}},
{"data":{"name":"one"},"mark":{"type":"rule","xOffset":-1.8,"x2Offset":1.8,"yOffset":3.5,"y2Offset":-3.5},"encoding":{"x":{"datum":2172.64,"axis":{"orient":"top","labels":false,"ticks":false,"title":null,"domain":true}},"x2":{"datum":2172.64},"y":{"datum":9953},"y2":{"datum":9953}}},
{"data":{"name":"one"},"mark":{"type":"rule","xOffset":-1.8,"x2Offset":1.8,"yOffset":3.5,"y2Offset":-3.5},"encoding":{"x":{"datum":2172.64,"axis":null},"x2":{"datum":2172.64},"y":{"datum":9234},"y2":{"datum":9234}}}
]}
]},
{"bounds":"flush","spacing":7,"hconcat":[
{"width":320,"height":141,"title":"UCAC4 451-11087 (Sector 06)","resolve":{"axis":{"x":"independent"}},"layer":[
{"data":{"name":"lc"},"transform":[{"filter":"datum.p === '3L'"}],"mark":{"type":"line","color":"black","strokeWidth":1,"strokeDash":[1.2,1],"interpolate":"monotone","clip":true},
"encoding":{"x":{"field":"t","type":"quantitative","scale":{"domain":[1467.35,1493.11],"nice":false,"zero":false},"axis":{"orient":"bottom","title":null,"values":[1468,1469,1470,1471,1472,1473,1474,1475,1476,1477,1478,1479,1480,1481,1482,1483,1484,1485,1486,1487,1488,1489,1490,1491,1492,1493],"format":"d","labelExpr":"datum.value % 5 === 0 ? datum.label : ''","tickSize":{"condition":{"test":"datum.value % 5 === 0","value":3.5},"value":2},"labelFlush":false,"labelPadding":2}},
"y":{"field":"f","type":"quantitative","title":"Flux","scale":{"domain":[4671,5161],"nice":false,"zero":false},"axis":{"orient":"left","values":[4700,4800,4900,5000,5100],"format":"d","tickSize":3.5,"labelPadding":2.5,"titlePadding":5}},
"detail":{"field":"s"},"order":{"field":"t"}}},
{"data":{"name":"out"},"transform":[{"filter":"datum.p === '3L'"}],"mark":{"type":"circle","color":"black","size":2,"opacity":1},"encoding":{"x":{"field":"t","type":"quantitative","axis":null},"y":{"field":"f","type":"quantitative","title":"Flux"}}},
{"data":{"name":"one"},"mark":{"type":"rule","xOffset":-1.8,"x2Offset":1.8,"yOffset":3.5,"y2Offset":-3.5},"encoding":{"x":{"datum":1493.11,"axis":{"orient":"top","labels":false,"ticks":false,"title":null,"domain":true}},"x2":{"datum":1493.11},"y":{"datum":5161},"y2":{"datum":5161}}},
{"data":{"name":"one"},"mark":{"type":"rule","xOffset":-1.8,"x2Offset":1.8,"yOffset":3.5,"y2Offset":-3.5},"encoding":{"x":{"datum":1493.11,"axis":null},"x2":{"datum":1493.11},"y":{"datum":4671},"y2":{"datum":4671}}}
]},
{"width":318,"height":141,"title":"UCAC4 451-11087 (Sector 32)","resolve":{"axis":{"x":"independent"}},"layer":[
{"data":{"name":"lc"},"transform":[{"filter":"datum.p === '3R'"}],"mark":{"type":"line","color":"black","strokeWidth":1.6,"interpolate":"monotone","clip":true},
"encoding":{"x":{"field":"t","type":"quantitative","scale":{"domain":[2172.64,2201.51],"nice":false,"zero":false},"axis":{"orient":"bottom","title":null,"values":[2173,2174,2175,2176,2177,2178,2179,2180,2181,2182,2183,2184,2185,2186,2187,2188,2189,2190,2191,2192,2193,2194,2195,2196,2197,2198,2199,2200,2201],"format":"d","labelExpr":"datum.value % 5 === 0 ? datum.label : ''","tickSize":{"condition":{"test":"datum.value % 5 === 0","value":3.5},"value":2},"labelFlush":false,"labelPadding":2}},
"y":{"field":"f","type":"quantitative","title":null,"scale":{"domain":[4671,5161],"nice":false,"zero":false},"axis":{"orient":"right","values":[4700,4800,4900,5000,5100],"labels":false,"tickSize":3.5}},
"detail":{"field":"s"},"order":{"field":"t"}}},
{"data":{"name":"out"},"transform":[{"filter":"datum.p === '3R'"}],"mark":{"type":"circle","color":"black","size":2,"opacity":1},"encoding":{"x":{"field":"t","type":"quantitative","axis":null},"y":{"field":"f","type":"quantitative","title":null}}},
{"data":{"name":"one"},"mark":{"type":"rule","xOffset":-1.8,"x2Offset":1.8,"yOffset":3.5,"y2Offset":-3.5},"encoding":{"x":{"datum":2172.64,"axis":{"orient":"top","labels":false,"ticks":false,"title":null,"domain":true}},"x2":{"datum":2172.64},"y":{"datum":5161},"y2":{"datum":5161}}},
{"data":{"name":"one"},"mark":{"type":"rule","xOffset":-1.8,"x2Offset":1.8,"yOffset":3.5,"y2Offset":-3.5},"encoding":{"x":{"datum":2172.64,"axis":null},"x2":{"datum":2172.64},"y":{"datum":4671},"y2":{"datum":4671}}}
]}
]},
{"bounds":"flush","spacing":6,"hconcat":[
{"width":212,"height":147,"title":"UCAC4 606-9417 (Sector 18)","resolve":{"axis":{"x":"independent"}},"layer":[
{"data":{"name":"lc"},"transform":[{"filter":"datum.p === '4L'"}],"mark":{"type":"line","color":"black","strokeWidth":1.4,"interpolate":"monotone","clip":true},
"encoding":{"x":{"field":"t","type":"quantitative","scale":{"domain":[1789.7,1816.31],"nice":false,"zero":false},"axis":{"orient":"bottom","title":null,"values":[1790,1791,1792,1793,1794,1795,1796,1797,1798,1799,1800,1801,1802,1803,1804,1805,1806,1807,1808,1809,1810,1811,1812,1813,1814,1815,1816],"format":"d","labelExpr":"datum.value % 5 === 0 ? datum.label : ''","tickSize":{"condition":{"test":"datum.value % 5 === 0","value":3.5},"value":2},"labelFlush":false,"labelPadding":2}},
"y":{"field":"f","type":"quantitative","title":"Flux","scale":{"domain":[3602,6415],"nice":false,"zero":false},"axis":{"orient":"left","values":[4000,4500,5000,5500,6000],"format":"d","tickSize":3.5,"labelPadding":2.5,"titlePadding":5}},
"detail":{"field":"s"},"order":{"field":"t"}}},
{"data":{"name":"one"},"mark":{"type":"rule","xOffset":-1.8,"x2Offset":1.8,"yOffset":3.5,"y2Offset":-3.5},"encoding":{"x":{"datum":1816.31,"axis":{"orient":"top","labels":false,"ticks":false,"title":null,"domain":true}},"x2":{"datum":1816.31},"y":{"datum":6415},"y2":{"datum":6415}}},
{"data":{"name":"one"},"mark":{"type":"rule","xOffset":-1.8,"x2Offset":1.8,"yOffset":3.5,"y2Offset":-3.5},"encoding":{"x":{"datum":1816.31,"axis":null},"x2":{"datum":1816.31},"y":{"datum":3602},"y2":{"datum":3602}}}
]},
{"width":427,"height":147,"title":"UCAC4 606-9417 (Sector 42 and 43)","resolve":{"axis":{"x":"independent"}},"layer":[
{"data":{"name":"lc"},"transform":[{"filter":"datum.p === '4R'"}],"mark":{"type":"line","color":"black","strokeWidth":1.5,"interpolate":"monotone","clip":true},
"encoding":{"x":{"field":"t","type":"quantitative","scale":{"domain":[2445.19,2501.46],"nice":false,"zero":false},"axis":{"orient":"bottom","title":"Time (BJD-2457000)","titleX":129,"titlePadding":6,"values":[2446,2447,2448,2449,2450,2451,2452,2453,2454,2455,2456,2457,2458,2459,2460,2461,2462,2463,2464,2465,2466,2467,2468,2469,2470,2471,2472,2473,2474,2475,2476,2477,2478,2479,2480,2481,2482,2483,2484,2485,2486,2487,2488,2489,2490,2491,2492,2493,2494,2495,2496,2497,2498,2499,2500,2501],"format":"d","labelExpr":"datum.value % 5 === 0 ? datum.label : ''","tickSize":{"condition":{"test":"datum.value % 5 === 0","value":3.5},"value":2},"labelFlush":false,"labelPadding":2}},
"y":{"field":"f","type":"quantitative","title":null,"scale":{"domain":[3602,6415],"nice":false,"zero":false},"axis":{"orient":"right","values":[4000,4500,5000,5500,6000],"labels":false,"tickSize":3.5}},
"detail":{"field":"s"},"order":{"field":"t"}}},
{"data":{"name":"out"},"transform":[{"filter":"datum.p === '4R'"}],"mark":{"type":"circle","color":"black","size":2,"opacity":1},"encoding":{"x":{"field":"t","type":"quantitative","axis":null},"y":{"field":"f","type":"quantitative","title":null}}},
{"data":{"name":"one"},"mark":{"type":"rule","xOffset":-1.8,"x2Offset":1.8,"yOffset":3.5,"y2Offset":-3.5},"encoding":{"x":{"datum":2445.19,"axis":{"orient":"top","labels":false,"ticks":false,"title":null,"domain":true}},"x2":{"datum":2445.19},"y":{"datum":6415},"y2":{"datum":6415}}},
{"data":{"name":"one"},"mark":{"type":"rule","xOffset":-1.8,"x2Offset":1.8,"yOffset":3.5,"y2Offset":-3.5},"encoding":{"x":{"datum":2445.19,"axis":null},"x2":{"datum":2445.19},"y":{"datum":3602},"y2":{"datum":3602}}}
]}
]}
]
}
